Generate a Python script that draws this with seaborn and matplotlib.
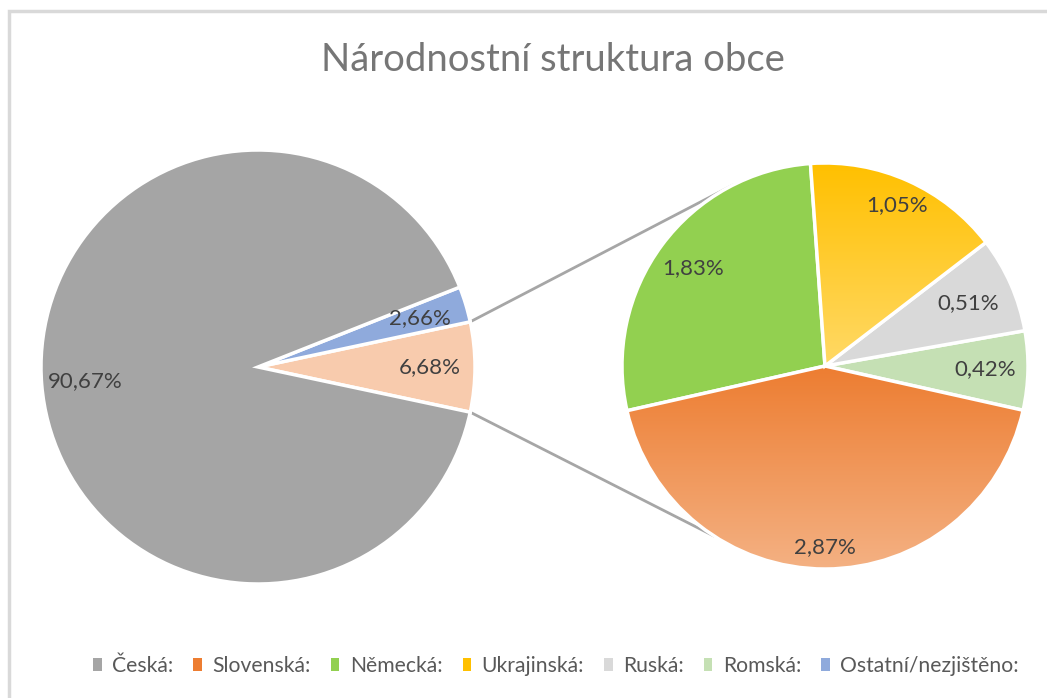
import numpy as np
import matplotlib
matplotlib.use('Agg')
import matplotlib.pyplot as plt
import seaborn as sns
from matplotlib.patches import Patch, Rectangle
from matplotlib.colors import LinearSegmentedColormap

# data (counterclockwise order as drawn)
main_labels = ['ostatní', 'Ostatní/nezjištěno:', 'Česká:']
main_values = [6.68, 2.66, 90.67]
main_colors = ['#F8CBAD', '#8FAADC', '#A5A5A5']

sub_labels = ['Romská:', 'Ruská:', 'Ukrajinská:', 'Německá:', 'Slovenská:']
sub_values = [0.42, 0.51, 1.05, 1.83, 2.87]
sub_colors = ['#C5E0B4', '#D9D9D9', '#FFC000', '#92D050', '#ED7D31']

legend_order = ['Česká:', 'Slovenská:', 'Německá:', 'Ukrajinská:', 'Ruská:', 'Romská:', 'Ostatní/nezjištěno:']
legend_colors = ['#A5A5A5', '#ED7D31', '#92D050', '#FFC000', '#D9D9D9', '#C5E0B4', '#8FAADC']

sns.set_theme(style='white')
plt.rcParams['font.family'] = ['Lato', 'DejaVu Sans']

W, H = 1047, 698
fig = plt.figure(figsize=(W / 100, H / 100), dpi=100)
ax = fig.add_axes([0, 0, 1, 1])

txt_color = '#404040'

def fmt(v):
    return f'{v:.2f}'.replace('.', ',') + '%'

# main pie
c1, r1 = (258, H - 367), 217
main_total = sum(main_values)
wedges1, _ = ax.pie(main_values, colors=main_colors, center=c1, radius=r1,
                    startangle=-main_values[0] / main_total * 180,
                    wedgeprops=dict(edgecolor='white', linewidth=2.5), frame=True)
dist1 = [0.79, 0.78, 0.80]
for w, v, d in zip(wedges1, main_values, dist1):
    ang = np.deg2rad((w.theta1 + w.theta2) / 2)
    ax.text(c1[0] + d * r1 * np.cos(ang), c1[1] + d * r1 * np.sin(ang), fmt(v),
            ha='center', va='center', fontsize=16, color=txt_color)

# secondary pie
c2, r2 = (825, H - 366), 203
wedges2, _ = ax.pie(sub_values, colors=sub_colors, center=c2, radius=r2,
                    startangle=-12.6,
                    wedgeprops=dict(edgecolor='white', linewidth=2.5), frame=True)

# gradients on orange and yellow slices
grad = {'#ED7D31': ('#ED7D31', '#F4B183'), '#FFC000': ('#FFC000', '#FFD966')}
for w, col in zip(wedges2, sub_colors):
    if col in grad:
        cmap = LinearSegmentedColormap.from_list('g', grad[col])
        bb = w.get_path().get_extents(w.get_patch_transform())
        img = ax.imshow(np.linspace(0, 1, 256).reshape(-1, 1), cmap=cmap, aspect='auto',
                        extent=[bb.x0, bb.x1, bb.y0, bb.y1], origin='upper', zorder=w.get_zorder())
        img.set_clip_path(w)
        w.set_facecolor('none')
        w.set_zorder(w.get_zorder() + 0.1)

dist2 = [0.79, 0.77, 0.87, 0.81, 0.89]
for w, v, d in zip(wedges2, sub_values, dist2):
    ang = np.deg2rad((w.theta1 + w.theta2) / 2)
    ax.text(c2[0] + d * r2 * np.cos(ang), c2[1] + d * r2 * np.sin(ang), fmt(v),
            ha='center', va='center', fontsize=16, color=txt_color, zorder=5)

# connector lines
wp = wedges1[0]
for a1, a2 in [(wp.theta2, 117), (wp.theta1, -123)]:
    p1 = (c1[0] + r1 * np.cos(np.deg2rad(a1)), c1[1] + r1 * np.sin(np.deg2rad(a1)))
    p2 = (c2[0] + r2 * np.cos(np.deg2rad(a2)), c2[1] + r2 * np.sin(np.deg2rad(a2)))
    ax.plot([p1[0], p2[0]], [p1[1], p2[1]], color='#A6A6A6', lw=2, zorder=0.5)

ax.set_xlim(0, W)
ax.set_ylim(0, H)
ax.set_aspect('equal')
ax.axis('off')

# title
ax.text(553, H - 60, 'Národnostní struktura obce', ha='center', va='center',
        fontsize=27.5, color='#767676')

# legend
handles = [Patch(facecolor=c, edgecolor='none') for c in legend_colors]
fig.legend(handles, legend_order, loc='center', bbox_to_anchor=(556 / W, 1 - 666 / H),
           ncol=7, frameon=False, fontsize=15.2, handlelength=0.4, handleheight=0.6,
           handletextpad=0.5, columnspacing=0.95, labelcolor='#595959')

# chart border
fig.patches.append(Rectangle((9 / W, -0.1), 1.2, 1 - 11 / H + 0.1, transform=fig.transFigure,
                             fill=False, edgecolor='#D9D9D9', lw=2.5))

fig.savefig('out.png', dpi=100)
